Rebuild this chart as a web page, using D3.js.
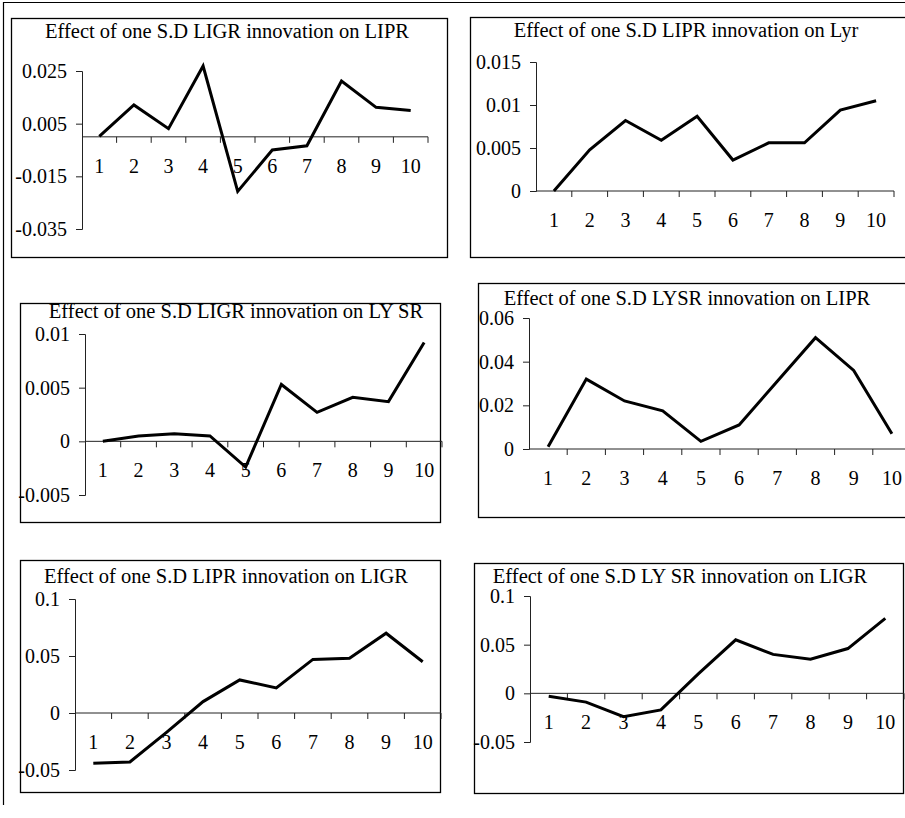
<!DOCTYPE html>
<html>
<head>
<meta charset="utf-8">
<script src="https://cdn.jsdelivr.net/npm/d3@7"></script>
<style>
  html, body { margin: 0; padding: 0; background: #fff; }
  svg { display: block; }
  text { font-family: "Liberation Serif", "Times New Roman", serif; fill: #000; }
</style>
</head>
<body>
<svg id="chart" width="905" height="818"></svg>
<script>
// ---------------- DATA ----------------
const periods = [1, 2, 3, 4, 5, 6, 7, 8, 9, 10];

const titleLigrLipr = "Effect of one S.D LIGR innovation on LIPR";
const titleLiprLyr  = "Effect of one S.D LIPR innovation on Lyr";
const titleLigrLysr = "Effect of one S.D LIGR innovation on LY SR";
const titleLysrLipr = "Effect of one S.D LYSR innovation on LIPR";
const titleLiprLigr = "Effect of one S.D LIPR innovation on LIGR";
const titleLysrLigr = "Effect of one S.D LY SR innovation on LIGR";

const ligrOnLipr = [0.0002, 0.0121, 0.0031, 0.0269, -0.0207, -0.0050, -0.0034, 0.0212, 0.0112, 0.0100];
const liprOnLyr  = [0.0000, 0.0048, 0.0082, 0.0059, 0.0087, 0.0036, 0.0056, 0.0056, 0.0094, 0.0105];
const ligrOnLysr = [0.0000, 0.0005, 0.0007, 0.0005, -0.0024, 0.0053, 0.0027, 0.0041, 0.0037, 0.0092];
const lysrOnLipr = [0.001, 0.032, 0.022, 0.0175, 0.0035, 0.011, 0.031, 0.051, 0.036, 0.007];
const liprOnLigr = [-0.044, -0.043, -0.017, 0.010, 0.029, 0.022, 0.047, 0.048, 0.070, 0.045];
const lysrOnLigr = [-0.003, -0.009, -0.024, -0.017, 0.020, 0.055, 0.040, 0.035, 0.046, 0.077];

const ticksLigrLipr = [0.025, 0.005, -0.015, -0.035];
const ticksLiprLyr  = [0.015, 0.01, 0.005, 0];
const ticksLigrLysr = [0.01, 0.005, 0, -0.005];
const ticksLysrLipr = [0.06, 0.04, 0.02, 0];
const ticksLiprLigr = [0.1, 0.05, 0, -0.05];
const ticksLysrLigr = [0.1, 0.05, 0, -0.05];

const tickLabelsLigrLipr = ["0.025", "0.005", "-0.015", "-0.035"];
const tickLabelsLiprLyr  = ["0.015", "0.01", "0.005", "0"];
const tickLabelsLigrLysr = ["0.01", "0.005", "0", "-0.005"];
const tickLabelsLysrLipr = ["0.06", "0.04", "0.02", "0"];
const tickLabelsLiprLigr = ["0.1", "0.05", "0", "-0.05"];
const tickLabelsLysrLigr = ["0.1", "0.05", "0", "-0.05"];

// ---------------- LAYOUT ----------------
const panels = [
  { title: titleLigrLipr, values: ligrOnLipr, ticks: ticksLigrLipr, labels: tickLabelsLigrLipr,
    box: [11, 18, 447, 257], titleX: 227, titleY: 38, axisX: 82, band: 34.6, yTop: 71, yBot: 229 },
  { title: titleLiprLyr, values: liprOnLyr, ticks: ticksLiprLyr, labels: tickLabelsLiprLyr,
    box: [470, 17, 912, 257], titleX: 686, titleY: 37, axisX: 536, band: 35.8, yTop: 62, yBot: 191 },
  { title: titleLigrLysr, values: ligrOnLysr, ticks: ticksLigrLysr, labels: tickLabelsLigrLysr,
    box: [20, 303, 440, 522], titleX: 236, titleY: 318, axisX: 85, band: 35.7, yTop: 334, yBot: 495 },
  { title: titleLysrLipr, values: lysrOnLipr, ticks: ticksLysrLipr, labels: tickLabelsLysrLipr,
    box: [478, 283, 912, 517], titleX: 687, titleY: 305, axisX: 529, band: 38.2, yTop: 318, yBot: 449 },
  { title: titleLiprLigr, values: liprOnLigr, ticks: ticksLiprLigr, labels: tickLabelsLiprLigr,
    box: [20, 560, 440, 792], titleX: 226, titleY: 583, axisX: 75, band: 36.6, yTop: 599, yBot: 770 },
  { title: titleLysrLigr, values: lysrOnLigr, ticks: ticksLysrLigr, labels: tickLabelsLysrLigr,
    box: [474, 563, 903, 793], titleX: 680, titleY: 583, axisX: 530, band: 37.4, yTop: 596, yBot: 742 }
];

const svg = d3.select("#chart");

// outer frame (top and left rules)
svg.append("line").attr("x1", 3).attr("y1", 2.5).attr("x2", 905).attr("y2", 2.5)
  .attr("stroke", "#000").attr("stroke-width", 1.2);
svg.append("line").attr("x1", 3.5).attr("y1", 2).attr("x2", 3.5).attr("y2", 805)
  .attr("stroke", "#000").attr("stroke-width", 1.2);

panels.forEach(p => {
  const g = svg.append("g");
  const [x0, y0, x1, y1] = p.box;
  g.append("rect").attr("x", x0 + 0.5).attr("y", y0 + 0.5)
    .attr("width", x1 - x0).attr("height", y1 - y0)
    .attr("fill", "none").attr("stroke", "#000").attr("stroke-width", 1.3);

  g.append("text").attr("x", p.titleX).attr("y", p.titleY)
    .attr("text-anchor", "middle").attr("font-size", 20.5).text(p.title);

  const yMin = d3.min(p.ticks), yMax = d3.max(p.ticks);
  const y = d3.scaleLinear().domain([yMin, yMax]).range([p.yBot, p.yTop]);
  const xb = d3.scaleBand().domain(periods).range([p.axisX, p.axisX + p.band * periods.length]).padding(0);
  const xc = d => xb(d) + xb.bandwidth() / 2;

  // y axis
  const yAxis = d3.axisLeft(y).tickValues(p.ticks)
    .tickFormat((d, i) => p.labels[i]).tickSize(6).tickPadding(9);
  const ya = g.append("g").attr("transform", `translate(${p.axisX},0)`).call(yAxis);
  ya.select(".domain").attr("stroke", "#222").attr("stroke-width", 1);
  ya.selectAll(".tick line").attr("stroke", "#222");
  ya.selectAll(".tick text").attr("font-size", 20)
    .attr("font-family", "'Liberation Serif', 'Times New Roman', serif").attr("fill", "#000");

  // x axis at zero with ticks at band boundaries
  const y0px = y(0);
  g.append("line").attr("x1", p.axisX).attr("x2", p.axisX + p.band * periods.length)
    .attr("y1", y0px).attr("y2", y0px).attr("stroke", "#222").attr("stroke-width", 1);
  const bounds = periods.map(d => xb(d) + xb.bandwidth());
  g.selectAll(".xt").data(bounds).enter().append("line")
    .attr("x1", d => d).attr("x2", d => d)
    .attr("y1", y0px).attr("y2", y0px + 6).attr("stroke", "#222").attr("stroke-width", 1);
  g.selectAll(".xl").data(periods).enter().append("text")
    .attr("x", d => xc(d)).attr("y", y0px + 36)
    .attr("text-anchor", "middle").attr("font-size", 20).text(d => d);

  // series
  const line = d3.line().x((d, i) => xc(periods[i])).y(d => y(d));
  g.append("path").datum(p.values).attr("d", line)
    .attr("fill", "none").attr("stroke", "#000").attr("stroke-width", 3)
    .attr("stroke-linejoin", "miter");
});
</script>
</body>
</html>
